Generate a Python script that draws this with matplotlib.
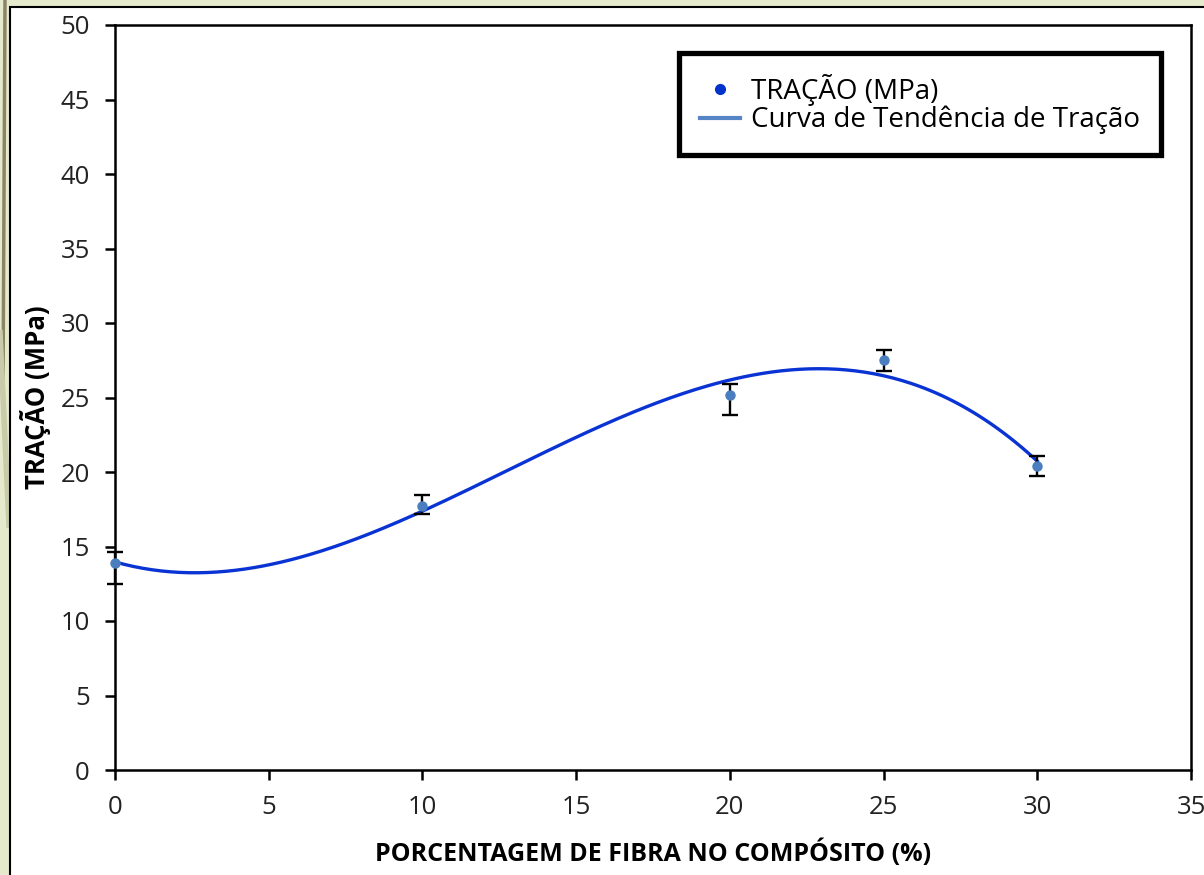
import numpy as np
import matplotlib
matplotlib.use("Agg")
import matplotlib.pyplot as plt
from matplotlib.lines import Line2D
from matplotlib.patches import Rectangle

# ---- data ----
fiber_pct = [0, 10, 20, 25, 30]
tracao = [13.9, 17.7, 25.2, 27.5, 20.4]
err_lower = [1.45, 0.5, 1.4, 0.7, 0.7]
err_upper = [0.7, 0.75, 0.7, 0.7, 0.65]
x_ticks = [0, 5, 10, 15, 20, 25, 30, 35]
y_ticks = [0, 5, 10, 15, 20, 25, 30, 35, 40, 45, 50]
legend_labels = ["TRAÇÃO (MPa)", "Curva de Tendência de Tração"]
x_label = "PORCENTAGEM DE FIBRA NO COMPÓSITO (%)"
y_label = "TRAÇÃO (MPa)"

plt.rcParams['font.family'] = ['Open Sans', 'DejaVu Sans']

W, H = 1204, 875
fig = plt.figure(figsize=(W / 100, H / 100), dpi=100)
fig.patch.set_facecolor('#E6EACC')

# slide decoration + white chart area with border (behind the axes)
fig.add_artist(Line2D([5 / W, 3 / W], [1, 0.55], color='#8C8466', lw=2.5,
                      transform=fig.transFigure, zorder=-3))
fig.add_artist(Line2D([0 / W, 9 / W], [0.62, 0.40], color='#C9CCAA', lw=4,
                      transform=fig.transFigure, zorder=-3))
fig.add_artist(Rectangle((10 / W, -0.01), 1.0, (H - 7) / H + 0.01, transform=fig.transFigure,
                         facecolor='white', edgecolor='black', lw=1.5, zorder=-2))

ax = fig.add_axes([115 / W, 105 / H, (1191 - 115) / W, (770 - 25) / H])
ax.set_facecolor('white')

# trend curve (cubic polynomial fit of the data, like the spreadsheet trendline)
coef = np.polyfit(fiber_pct, tracao, 3)
xs = np.linspace(min(fiber_pct), max(fiber_pct), 300)
ax.plot(xs, np.polyval(coef, xs), color='#0A33D4', lw=2.4, zorder=3, clip_on=False)

ax.errorbar(fiber_pct, tracao, yerr=[err_lower, err_upper], fmt='o', color='#4A7EBF',
            markersize=6.5, ecolor='black', elinewidth=1.7, capsize=6, capthick=1.7,
            zorder=4, clip_on=False)

ax.set_xlim(0, 35)
ax.set_ylim(0, 50)
ax.set_xticks(x_ticks)
ax.set_yticks(y_ticks)
for s in ax.spines.values():
    s.set_linewidth(1.8)
    s.set_color('black')
ax.tick_params(direction='out', length=7, width=1.8, labelsize=18.5, colors='black',
               labelcolor='#222222')
ax.tick_params(axis='y', pad=11)
ax.tick_params(axis='x', pad=11)

ax.set_xlabel(x_label, fontsize=18, fontweight='bold', labelpad=14)
ax.set_ylabel(y_label, fontsize=18.5, fontweight='bold', labelpad=7)

handles = [Line2D([], [], marker='o', ls='none', color='#0033CC', markersize=7),
           Line2D([], [], color='#5585C5', lw=3)]
leg = ax.legend(handles, legend_labels, loc='upper left',
                bbox_to_anchor=(679 / W, (H - 53) / H), bbox_transform=fig.transFigure,
                fontsize=20, frameon=True, fancybox=False, edgecolor='black', framealpha=1,
                borderpad=0.75, labelspacing=0.0, handlelength=1.45, handletextpad=0.4,
                borderaxespad=0)
leg.get_frame().set_linewidth(3.8)

fig.savefig('out.png', dpi=100, facecolor=fig.get_facecolor())
